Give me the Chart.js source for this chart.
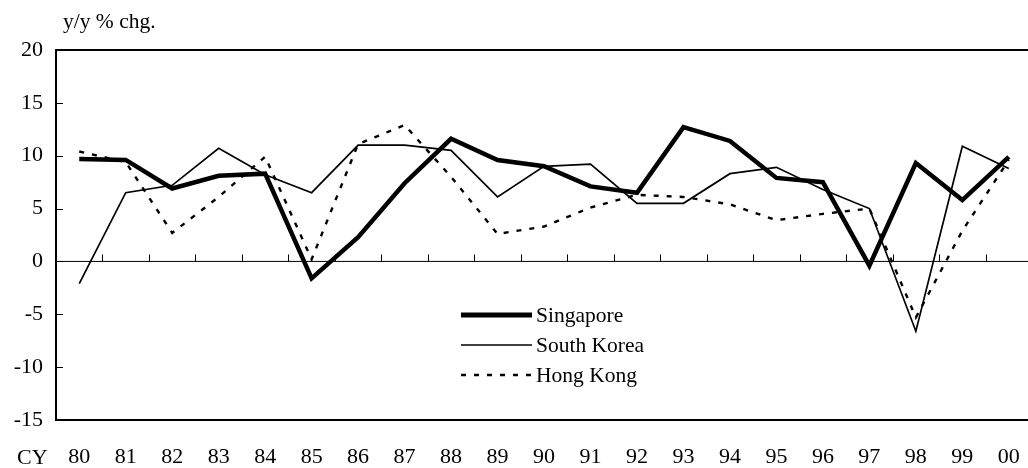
<!DOCTYPE html>
<html>
<head>
<meta charset="utf-8">
<script src="https://cdn.jsdelivr.net/npm/chart.js@4.4.1/dist/chart.umd.min.js"></script>
<style>
  html, body { margin: 0; padding: 0; background: #fff; overflow: hidden; }
  #wrap { width: 1044px; height: 468px; }
</style>
</head>
<body>
<div id="wrap"><canvas id="grafico"></canvas></div>
<script>
// Datos (y/y % chg.)
const anios = ['80','81','82','83','84','85','86','87','88','89','90','91','92','93','94','95','96','97','98','99','00'];
const singapur = [9.7, 9.6, 6.9, 8.1, 8.3, -1.6, 2.3, 7.4, 11.6, 9.6, 9.0, 7.1, 6.5, 12.7, 11.4, 7.9, 7.5, -0.4, 9.3, 5.8, 9.9];
const coreaSur = [-2.1, 6.5, 7.2, 10.7, 8.2, 6.5, 11.0, 11.0, 10.5, 6.1, 9.0, 9.2, 5.5, 5.5, 8.3, 8.9, 6.8, 5.0, -6.6, 10.9, 8.8];
const hongKong = [10.4, 9.4, 2.7, 6.1, 9.9, 0.2, 11.1, 12.9, 8.0, 2.6, 3.3, 5.1, 6.3, 6.1, 5.4, 3.9, 4.5, 5.0, -5.3, 2.9, 9.6];
const ticksY = [20, 15, 10, 5, 0, -5, -10, -15];

const fuente = "'Liberation Serif', 'Times New Roman', serif";
Chart.defaults.font.family = fuente;
Chart.defaults.color = '#000';

// Marco, linea de cero, marcas y textos sueltos
const marco = {
    id: 'marco',
    beforeDatasetsDraw(chart) {
        const { ctx, chartArea: a, scales: { x, y } } = chart;
        const y0 = y.getPixelForValue(0);
        ctx.save();
        ctx.strokeStyle = '#000';
        ctx.lineWidth = 1;
        ctx.beginPath();
        ctx.moveTo(a.left, y0);
        ctx.lineTo(a.right, y0);
        // marcas entre categorias sobre la linea de cero
        for (let i = 1; i < anios.length; i++) {
            const px = Math.round((x.getPixelForValue(i - 1) + x.getPixelForValue(i)) / 2) + 0.5;
            ctx.moveTo(px, y0);
            ctx.lineTo(px, y0 - 7);
        }
        // marcas del eje y hacia adentro
        ticksY.forEach(v => {
            const py = Math.round(y.getPixelForValue(v)) + 0.5;
            ctx.moveTo(a.left, py);
            ctx.lineTo(a.left + 7, py);
        });
        ctx.stroke();
        ctx.restore();
    },
    afterDraw(chart) {
        const { ctx, chartArea: a } = chart;
        ctx.save();
        ctx.strokeStyle = '#000';
        ctx.lineWidth = 2;
        ctx.beginPath();
        ctx.moveTo(a.right, a.top);
        ctx.lineTo(a.left, a.top);
        ctx.lineTo(a.left, a.bottom);
        ctx.lineTo(a.right, a.bottom);
        ctx.stroke();
        ctx.fillStyle = '#000';
        ctx.textBaseline = 'alphabetic';
        ctx.textAlign = 'left';
        ctx.font = '21.5px ' + fuente;
        ctx.fillText('y/y % chg.', 63, 28);
        ctx.font = '22px ' + fuente;
        ctx.fillText('CY', 17, 464);

        // leyenda dentro del grafico
        const x1 = 461, x2 = 532;
        ctx.font = '21.5px ' + fuente;
        chart.data.datasets.forEach((ds, i) => {
            const py = 315 + i * 30;
            ctx.lineWidth = i === 0 ? 5 : ds.borderWidth;
            ctx.setLineDash(ds.borderDash || []);
            ctx.beginPath();
            ctx.moveTo(x1, py);
            ctx.lineTo(x2, py);
            ctx.stroke();
            ctx.setLineDash([]);
            ctx.textBaseline = 'middle';
            ctx.fillText(ds.label, 536, py + 1);
        });
        ctx.restore();
    }
};

new Chart(document.getElementById('grafico'), {
    type: 'line',
    data: {
        labels: anios,
        datasets: [
            { label: 'Singapore', data: singapur, borderColor: '#000', borderWidth: 4.5, pointRadius: 0, tension: 0, borderJoinStyle: 'miter' },
            { label: 'South Korea', data: coreaSur, borderColor: '#000', borderWidth: 1.7, pointRadius: 0, tension: 0 },
            { label: 'Hong Kong', data: hongKong, borderColor: '#000', borderWidth: 2.4, borderDash: [5, 8], pointRadius: 0, tension: 0 }
        ]
    },
    options: {
        responsive: true,
        maintainAspectRatio: false,
        animation: false,
        layout: { padding: { top: 50, right: 8, left: 0, bottom: 0 } },
        plugins: {
            legend: { display: false },
            tooltip: { enabled: false }
        },
        scales: {
            x: {
                offset: true,
                grid: { display: false, drawTicks: false },
                border: { display: false },
                ticks: { font: { size: 22 }, padding: 24, maxRotation: 0, autoSkip: false },
                afterFit: s => { s.height = 48; }
            },
            y: {
                min: -15,
                max: 20,
                grid: { display: false, drawTicks: false },
                border: { display: false },
                ticks: { stepSize: 5, font: { size: 22 }, padding: 13 },
                afterFit: s => { s.width = 56; }
            }
        }
    },
    plugins: [marco]
});
</script>
</body>
</html>
